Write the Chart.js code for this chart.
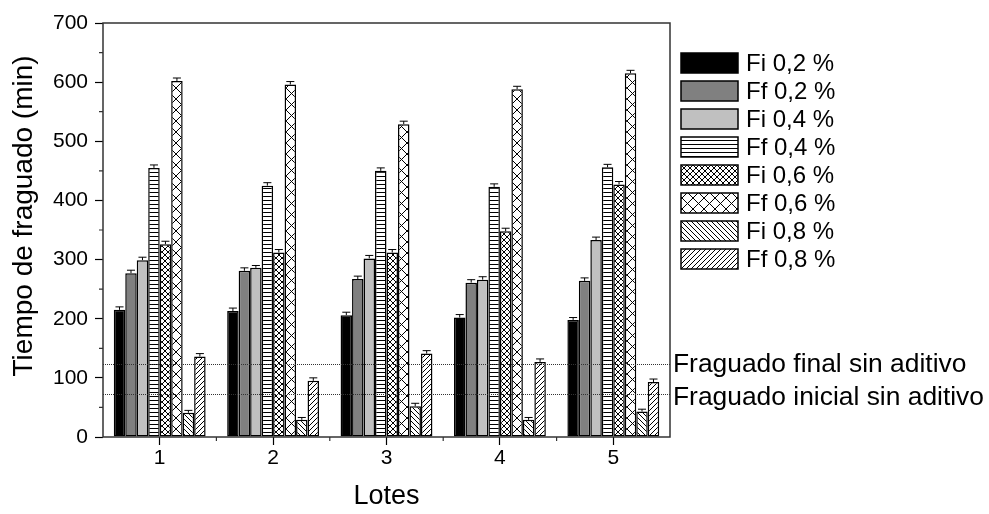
<!DOCTYPE html>
<html>
<head>
<meta charset="utf-8">
<script src="https://cdn.jsdelivr.net/npm/chart.js@4/dist/chart.umd.min.js"></script>
<style>
  html, body { margin: 0; padding: 0; background: #fff; }
  #wrap { width: 989px; height: 514px; }
</style>
</head>
<body>
<div id="wrap"><canvas id="chart"></canvas></div>
<script>
'use strict';

// lotes
const lotes = ['1', '2', '3', '4', '5'];
const seriesLabels = ['Fi 0,2 %', 'Ff 0,2 %', 'Fi 0,4 %', 'Ff 0,4 %', 'Fi 0,6 %', 'Ff 0,6 %', 'Fi 0,8 %', 'Ff 0,8 %'];

// tiempos de fraguado (min)
const fi02 = [215, 213, 206, 202, 198];
const ff02 = [277, 281, 267, 261, 264];
const fi04 = [299, 286, 302, 266, 333];
const ff04 = [455, 425, 450, 423, 456];
const fi06 = [326, 312, 312, 348, 427];
const ff06 = [602, 596, 529, 588, 615];
const fi08 = [41, 29, 52, 29, 43];
const ff08 = [136, 95, 141, 127, 93];

// barras de error
const err02 = [5, 5, 5, 5, 4];
const errFf02 = [5, 5, 5, 5, 5];
const err04 = [5, 4, 5, 5, 5];
const errFf04 = [5, 5, 5, 5, 5];
const err06 = [5, 5, 5, 5, 5];
const errFf06 = [5, 5, 5, 5, 5];
const err08 = [4, 4, 5, 4, 4];
const errFf08 = [5, 5, 5, 5, 5];

// lineas de referencia sin aditivo
const refValues = [123, 73];
const refLabels = ['Fraguado final sin aditivo', 'Fraguado inicial sin aditivo'];

const yTicksMajor = [0, 100, 200, 300, 400, 500, 600, 700];
const yTitle = 'Tiempo de fraguado (min)';

// patrones de relleno
function makePattern(size, drawFn) {
  const c = document.createElement('canvas');
  c.width = size; c.height = size;
  const g = c.getContext('2d');
  g.fillStyle = '#fff';
  g.fillRect(0, 0, size, size);
  g.strokeStyle = '#000';
  g.lineWidth = 1;
  g.beginPath();
  drawFn(g, size);
  g.stroke();
  return document.getElementById('chart').getContext('2d').createPattern(c, 'repeat');
}
const pHoriz = makePattern(4, (g, s) => { g.moveTo(0, 0.5); g.lineTo(s, 0.5); });
const pBack = (s => makePattern(s, (g) => {
  for (const k of [-s, 0, s]) { g.moveTo(k, 0); g.lineTo(k + s, s); }
}))(5);
const pSlash = (s => makePattern(s, (g) => {
  for (const k of [-s, 0, s]) { g.moveTo(k, s); g.lineTo(k + s, 0); }
}))(5);
const pCrossFine = (s => makePattern(s, (g) => {
  for (const k of [-s, 0, s]) { g.moveTo(k, 0); g.lineTo(k + s, s); g.moveTo(k, s); g.lineTo(k + s, 0); }
}))(6);
const pCrossBig = (s => makePattern(s, (g) => {
  for (const k of [-s, 0, s]) { g.moveTo(k, 0); g.lineTo(k + s, s); g.moveTo(k, s); g.lineTo(k + s, 0); }
}))(11);

const seriesData = [fi02, ff02, fi04, ff04, fi06, ff06, fi08, ff08];
const seriesErr = [err02, errFf02, err04, errFf04, err06, errFf06, err08, errFf08];
const fills = ['#000000', '#808080', '#c0c0c0', pHoriz, pCrossFine, pCrossBig, pBack, pSlash];

const FONT = "'Liberation Sans', Arial, sans-serif";

// errores, lineas de referencia, marco, ticks menores, titulo Y y leyenda
const extrasPlugin = {
  id: 'extras',
  afterDatasetsDraw(chart) {
    const ctx = chart.ctx;
    const y = chart.scales.y, x = chart.scales.x;
    const a = chart.chartArea;
    ctx.save();
    // error bars
    ctx.strokeStyle = '#000';
    ctx.lineWidth = 1;
    chart.data.datasets.forEach((ds, i) => {
      chart.getDatasetMeta(i).data.forEach((bar, j) => {
        const top = y.getPixelForValue(ds.data[j] + seriesErr[i][j]);
        const cap = bar.width * 0.35;
        ctx.beginPath();
        ctx.moveTo(bar.x, bar.y);
        ctx.lineTo(bar.x, top);
        ctx.moveTo(bar.x - cap, top);
        ctx.lineTo(bar.x + cap, top);
        ctx.stroke();
      });
    });
    // lineas de referencia
    ctx.strokeStyle = '#333';
    ctx.setLineDash([1, 1]);
    refValues.forEach(v => {
      const py = Math.round(y.getPixelForValue(v)) + 0.5;
      ctx.beginPath();
      ctx.moveTo(a.left, py);
      ctx.lineTo(a.right, py);
      ctx.stroke();
    });
    ctx.setLineDash([]);
    ctx.fillStyle = '#000';
    ctx.font = '26.4px ' + FONT;
    ctx.textAlign = 'left';
    ctx.textBaseline = 'middle';
    ctx.fillText(refLabels[0], a.right + 3, y.getPixelForValue(refValues[0]));
    ctx.fillText(refLabels[1], a.right + 3, y.getPixelForValue(refValues[1]) + 4);
    // marco
    ctx.lineWidth = 1.5;
    ctx.strokeRect(a.left, a.top, a.right - a.left, a.bottom - a.top);
    // ticks menores
    ctx.lineWidth = 1.2;
    ctx.beginPath();
    for (let v = 50; v < 700; v += 100) {
      const py = y.getPixelForValue(v);
      ctx.moveTo(a.left, py); ctx.lineTo(a.left - 4, py);
    }
    const step = x.getPixelForValue(1) - x.getPixelForValue(0);
    for (let k = 0; k <= lotes.length; k++) {
      const px = x.getPixelForValue(0) - step / 2 + k * step;
      if (px < a.left + 2 || px > a.right - 2) continue;
      ctx.moveTo(px, a.bottom); ctx.lineTo(px, a.bottom + 4);
    }
    ctx.stroke();
    // titulo eje Y (un poco por encima del centro, como en el original)
    ctx.save();
    ctx.translate(24, a.top + (a.bottom - a.top) * 0.466);
    ctx.rotate(-Math.PI / 2);
    ctx.font = '28px ' + FONT;
    ctx.textAlign = 'center';
    ctx.fillText(yTitle, 0, 0);
    ctx.restore();
    // leyenda
    const lx = 681, ly = 53, bw = 57, bh = 20, gap = 28;
    ctx.font = '24px ' + FONT;
    seriesLabels.forEach((lab, i) => {
      const by = ly + i * gap;
      ctx.fillStyle = fills[i];
      ctx.fillRect(lx, by, bw, bh);
      ctx.lineWidth = 1.5;
      ctx.strokeStyle = '#000';
      ctx.strokeRect(lx, by, bw, bh);
      ctx.fillStyle = '#000';
      ctx.fillText(lab, lx + bw + 8, by + bh / 2 + 1);
    });
    ctx.restore();
  }
};

new Chart(document.getElementById('chart'), {
  type: 'bar',
  data: {
    labels: lotes,
    datasets: seriesData.map((d, i) => ({
      label: seriesLabels[i],
      data: d,
      backgroundColor: fills[i],
      borderColor: '#000',
      borderWidth: 1.5,
      borderSkipped: false,
      barPercentage: 1.0,
      categoryPercentage: 0.81,
    })),
  },
  options: {
    responsive: true,
    maintainAspectRatio: false,
    animation: false,
    devicePixelRatio: 1,
    layout: { padding: { top: 23, right: 319, left: 0, bottom: 0 } },
    plugins: { legend: { display: false }, tooltip: { enabled: false } },
    scales: {
      x: {
        grid: { display: true, drawOnChartArea: false, offset: false, tickLength: 8, tickWidth: 1.2, tickColor: '#000' },
        border: { display: false },
        ticks: { color: '#000', font: { family: FONT, size: 21 }, padding: 1, maxRotation: 0 },
        title: { display: true, text: 'Lotes', color: '#000', font: { family: FONT, size: 27 }, padding: { top: 0, bottom: 1 } },
        afterFit(scale) { scale.height = 77; },
      },
      y: {
        min: 0, max: 700,
        afterBuildTicks(scale) { scale.ticks = yTicksMajor.map(v => ({ value: v })); },
        grid: { display: true, drawOnChartArea: false, tickLength: 8, tickWidth: 1.2, tickColor: '#000' },
        border: { display: false },
        ticks: { color: '#000', font: { family: FONT, size: 21 }, padding: 7 },
        title: { display: false },
        afterFit(scale) { scale.width = 103; },
      },
    },
  },
  plugins: [extrasPlugin],
});
</script>
</body>
</html>
